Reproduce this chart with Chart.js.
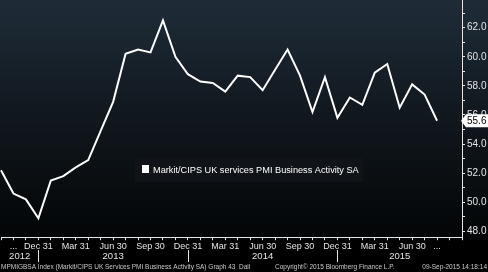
<!DOCTYPE html>
<html>
<head>
<meta charset="utf-8">
<script src="https://cdn.jsdelivr.net/npm/chart.js@4"></script>
<style>
  html, body { margin: 0; padding: 0; background: #000; }
  #wrap { width: 488px; height: 272px; }
</style>
</head>
<body>
<div id="wrap"><canvas id="pmi-chart" width="488" height="272"></canvas></div>
<script>
// monthly, Sep 2012 .. Aug 2015, two empty months on the right edge
var months = [ "Sep 2012", "Oct 2012", "Nov 2012", "Dec 2012",
    "Jan 2013", "Feb 2013", "Mar 2013", "Apr 2013", "May 2013", "Jun 2013", "Jul 2013", "Aug 2013", "Sep 2013", "Oct 2013", "Nov 2013", "Dec 2013",
    "Jan 2014", "Feb 2014", "Mar 2014", "Apr 2014", "May 2014", "Jun 2014", "Jul 2014", "Aug 2014", "Sep 2014", "Oct 2014", "Nov 2014", "Dec 2014",
    "Jan 2015", "Feb 2015", "Mar 2015", "Apr 2015", "May 2015", "Jun 2015", "Jul 2015", "Aug 2015", "Sep 2015", "Oct 2015" ];
var pmiValues = [ 52.2, 50.6, 50.2, 48.9,
    51.5, 51.8, 52.4, 52.9, 54.9, 56.9, 60.2, 60.5, 60.3, 62.5, 60.0, 58.8,
    58.3, 58.2, 57.6, 58.7, 58.6, 57.7, 59.1, 60.5, 58.7, 56.2, 58.6, 55.8,
    57.2, 56.7, 58.9, 59.5, 56.5, 58.1, 57.4, 55.6, null, null ];
// x tick text by month index
var xTickText = { 1: "...", 3: "Dec 31", 6: "Mar 31", 9: "Jun 30", 12: "Sep 30", 15: "Dec 31", 18: "Mar 31",
    21: "Jun 30", 24: "Sep 30", 27: "Dec 31", 30: "Mar 31", 33: "Jun 30", 35: "..." };
var yearLabels = [ "2012", "2013", "2014", "2015" ];
var yearBreaks = [ 0, 3, 15, 27, 37 ];
var yTicks = [ 48, 49, 50, 51, 52, 53, 54, 55, 56, 57, 58, 59, 60, 61, 62, 63 ];
var legendText = "Markit/CIPS UK services PMI Business Activity SA";
var footLeft = "MPMIGBSA Index (Markit/CIPS UK Services PMI Business Activity SA) Graph 43  Dail";
var footMid = "Copyright\u00a9 2015 Bloomberg Finance L.P.";
var footRight = "09-Sep-2015 14:18:14";

var lastValue = pmiValues[35];
var fontFam = "'Liberation Sans', Arial, sans-serif";

var bgPlugin = {
    id: "bbgBackground",
    beforeDraw: function (chart) {
        var c = chart.ctx, w = chart.width, h = chart.height;
        c.save();
        c.fillStyle = "#000";
        c.fillRect(0, 0, w, h);
        var g = c.createLinearGradient(0, 0, 0, 240);
        g.addColorStop(0, "#1f2c38");
        g.addColorStop(0.5, "#10171d");
        g.addColorStop(1, "#030506");
        c.fillStyle = g;
        c.fillRect(0, 0, w, 240);
        c.restore();
    },
    afterDraw: function (chart) {
        var c = chart.ctx, x = chart.scales.x, y = chart.scales.y;
        c.save();
        // year row
        c.fillStyle = "#e6e6e6";
        c.strokeStyle = "#e6e6e6";
        c.font = "9.5px " + fontFam;
        c.textAlign = "center";
        c.textBaseline = "middle";
        for (var i = 0; i < yearLabels.length; i++) {
            var mid = (x.getPixelForValue(yearBreaks[i]) + x.getPixelForValue(yearBreaks[i + 1])) / 2;
            c.fillText(yearLabels[i], mid, 256);
        }
        c.lineWidth = 1;
        for (var j = 1; j < yearBreaks.length - 1; j++) {
            var px = Math.round(x.getPixelForValue(yearBreaks[j])) + 0.5;
            c.beginPath();
            c.moveTo(px, 250);
            c.lineTo(px, 262);
            c.stroke();
        }
        // footer
        c.fillStyle = "#c8c8c8";
        c.font = "6.5px " + fontFam;
        c.textAlign = "left";
        c.fillText(footLeft, 1, 267);
        c.fillText(footMid, 275, 267);
        c.textAlign = "right";
        c.fillText(footRight, 487, 267);
        // legend box
        c.fillStyle = "#101418";
        c.fillRect(135, 158, 228, 24);
        c.fillStyle = "#ffffff";
        c.fillRect(142, 165, 7, 8);
        c.font = "9.2px " + fontFam;
        c.textAlign = "left";
        c.fillText(legendText, 153, 170);
        // last value tag
        var ty = y.getPixelForValue(lastValue);
        c.fillStyle = "#ffffff";
        c.beginPath();
        c.moveTo(461, ty);
        c.lineTo(466, ty - 6.5);
        c.lineTo(488, ty - 6.5);
        c.lineTo(488, ty + 6.5);
        c.lineTo(466, ty + 6.5);
        c.closePath();
        c.fill();
        c.fillStyle = "#000000";
        c.font = "10px " + fontFam;
        c.textAlign = "left";
        c.fillText(lastValue.toFixed(1), 467, ty + 0.5);
        c.restore();
    }
};

new Chart(document.getElementById("pmi-chart").getContext("2d"), {
    type: "line",
    data: {
        labels: months,
        datasets: [ {
            label: legendText,
            data: pmiValues,
            borderColor: "#ffffff",
            borderWidth: 2,
            pointRadius: 0,
            tension: 0,
            spanGaps: false
        } ]
    },
    options: {
        responsive: false,
        animation: false,
        layout: { padding: { top: 0, left: 0, right: 0, bottom: 19 } },
        plugins: { legend: { display: false }, tooltip: { enabled: false } },
        scales: {
            x: {
                offset: false,
                border: { color: "#e6e6e6", width: 1 },
                grid: { drawOnChartArea: false, tickLength: 3, color: "#e6e6e6" },
                ticks: {
                    autoSkip: false,
                    maxRotation: 0,
                    padding: 1,
                    color: "#e6e6e6",
                    font: { size: 9, family: fontFam },
                    callback: function (v, i) { return xTickText[i] || ""; }
                }
            },
            y: {
                position: "right",
                min: 47.6,
                max: 63.9,
                afterBuildTicks: function (s) { s.ticks = yTicks.map(function (v) { return { value: v }; }); },
                afterFit: function (s) { s.width = 26; s.paddingTop = 0; s.paddingBottom = 0; },
                border: { color: "#e6e6e6", width: 1 },
                grid: { drawOnChartArea: false, tickLength: 3, color: "#e6e6e6" },
                ticks: {
                    padding: 2,
                    color: "#e6e6e6",
                    font: { size: 10, family: fontFam },
                    callback: function (v) { return v % 2 === 0 ? v.toFixed(1) : ""; }
                }
            }
        }
    },
    plugins: [ bgPlugin ]
});
</script>
</body>
</html>
